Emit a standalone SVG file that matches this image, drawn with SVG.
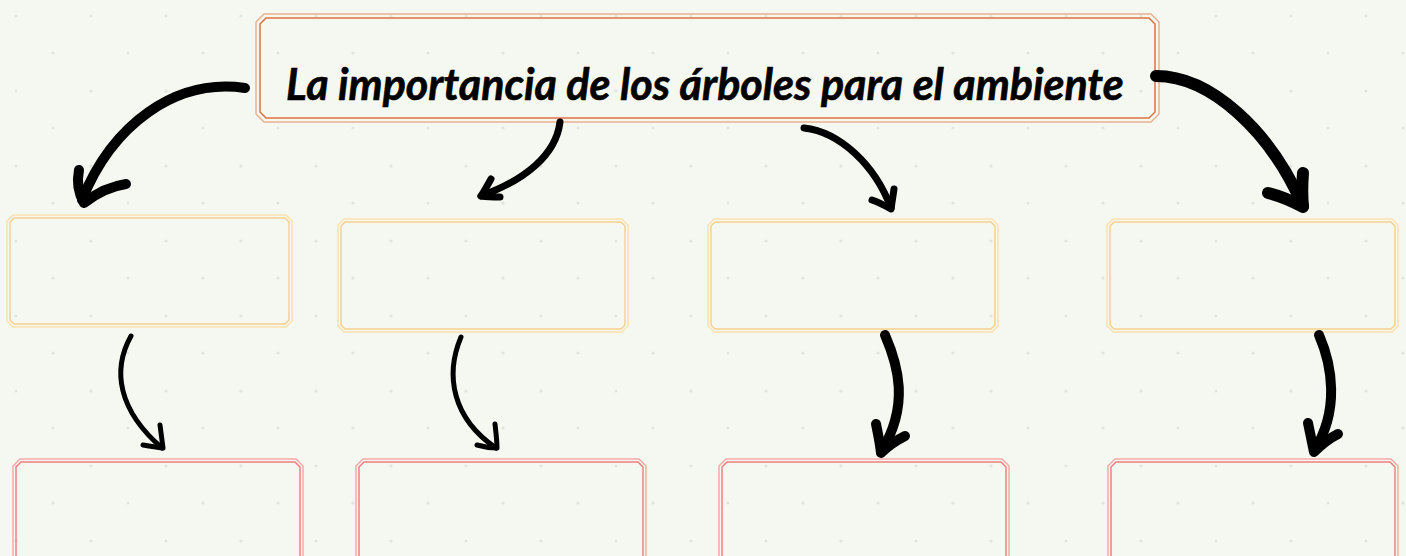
<svg xmlns="http://www.w3.org/2000/svg" width="1406" height="556" viewBox="0 0 1406 556">
<defs>
<pattern id="dots" x="0" y="0" width="75" height="75" patternUnits="userSpaceOnUse">
<circle cx="16" cy="16" r="1.6" fill="#e2e4de"/>
<circle cx="53" cy="53" r="1.6" fill="#e2e4de"/>
</pattern>
</defs>
<style>
.o1{fill:none;stroke:#eab08e;stroke-width:1.5}
.o2{fill:none;stroke:#e0713f;stroke-width:1.5}
.y1{fill:none;stroke:#fbe1b0;stroke-width:1.5}
.y2{fill:none;stroke:#f8cf8c;stroke-width:1.5}
.r1{fill:none;stroke:#f6a9a9;stroke-width:1.5}
.r2{fill:none;stroke:#ef7f7f;stroke-width:1.5}
.ar{fill:none;stroke:#000;stroke-linecap:round;stroke-linejoin:round}
.t{font-family:Lato,"Liberation Sans",sans-serif;font-weight:bold;font-style:italic;font-size:43px;fill:#000}
</style>
<rect width="1406" height="556" fill="#f5f8f0"/>
<rect width="1406" height="556" fill="url(#dots)"/>
<g id="title">
<path class="o1" d="M264,14 H1151 L1159,22 V114 L1151,122 H264 L256,114 V22 Z"/>
<path class="o2" d="M266,18 H1149 L1155,24 V112 L1149,118 H266 L260,112 V24 Z"/>
<text class="t" x="286" y="100" stroke="#000" stroke-width="0.6">La importancia de los árboles para el ambiente</text>
</g>
<g id="box-y1">
<path class="y1" d="M13,215 H286 L292,221 V321 L286,327 H13 L7,321 V221 Z"/>
<path class="y2" d="M14,218 H285 L289,222 V320 L285,324 H14 L10,320 V222 Z"/>
</g>
<g id="box-y2">
<path class="y1" d="M344,219 H622 L628,225 V326 L622,332 H344 L338,326 V225 Z"/>
<path class="y2" d="M345,222 H621 L625,226 V325 L621,329 H345 L341,325 V226 Z"/>
</g>
<g id="box-y3">
<path class="y1" d="M714,219 H992 L998,225 V326 L992,332 H714 L708,326 V225 Z"/>
<path class="y2" d="M715,222 H991 L995,226 V325 L991,329 H715 L711,325 V226 Z"/>
</g>
<g id="box-y4">
<path class="y1" d="M1113,219 H1392 L1398,225 V326 L1392,332 H1113 L1107,326 V225 Z"/>
<path class="y2" d="M1114,222 H1391 L1395,226 V325 L1391,329 H1114 L1110,325 V226 Z"/>
</g>
<g id="box-r1">
<path class="r1" d="M20,459 H296 L303,466 V570 H13 V466 Z"/>
<path class="r2" d="M21,462 H295 L300,467 V570 H16 V467 Z"/>
</g>
<g id="box-r2">
<path class="r1" d="M363,459 H639 L646,466 V570 H356 V466 Z"/>
<path class="r2" d="M364,462 H638 L643,467 V570 H359 V467 Z"/>
</g>
<g id="box-r3">
<path class="r1" d="M726,459 H1002 L1009,466 V570 H719 V466 Z"/>
<path class="r2" d="M727,462 H1001 L1006,467 V570 H722 V467 Z"/>
</g>
<g id="box-r4">
<path class="r1" d="M1115,459 H1391 L1398,466 V570 H1108 V466 Z"/>
<path class="r2" d="M1116,462 H1390 L1395,467 V570 H1111 V467 Z"/>
</g>
<g id="connectors">
<path class="ar" stroke-width="10" d="M245,88 C175,78 112,125 82,200"/>
<path class="ar" stroke-width="10" d="M79,170 C76,185 80,196 84,203 C98,192 112,186 126,184"/>
<path class="ar" stroke-width="7" d="M560,122 C556,155 525,180 481,196"/>
<path class="ar" stroke-width="7" d="M491,179 C487,186 484,192 481,196 C488,197 494,197 500,197"/>
<path class="ar" stroke-width="7" d="M804,128 C840,132 875,165 891,208"/>
<path class="ar" stroke-width="7" d="M894,189 C893,196 892,202 891,209 C884,205 878,202 872,200"/>
<path class="ar" stroke-width="12" d="M1156,76 C1210,76 1270,130 1303,206"/>
<path class="ar" stroke-width="12" d="M1303,173 C1302,185 1302,196 1303,207 C1292,201 1280,196 1268,193"/>
<path class="ar" stroke-width="5" d="M131,336 C112,370 118,410 162,448"/>
<path class="ar" stroke-width="5" d="M160,425 C161,433 162,440 163,448 C155,447 149,446 143,445"/>
<path class="ar" stroke-width="5" d="M461,337 C445,375 452,418 496,448"/>
<path class="ar" stroke-width="5" d="M495,424 C496,433 497,441 497,448 C490,448 484,447 477,445"/>
<path class="ar" stroke-width="10" d="M885,335 C898,365 910,405 881,452"/>
<path class="ar" stroke-width="10" d="M876,424 C878,434 880,443 881,453 C890,444 897,440 905,436"/>
<path class="ar" stroke-width="10" d="M1319,335 C1332,365 1340,410 1314,451"/>
<path class="ar" stroke-width="10" d="M1308,423 C1310,433 1312,442 1314,452 C1322,444 1330,438 1338,434"/>
</g>
</svg>
